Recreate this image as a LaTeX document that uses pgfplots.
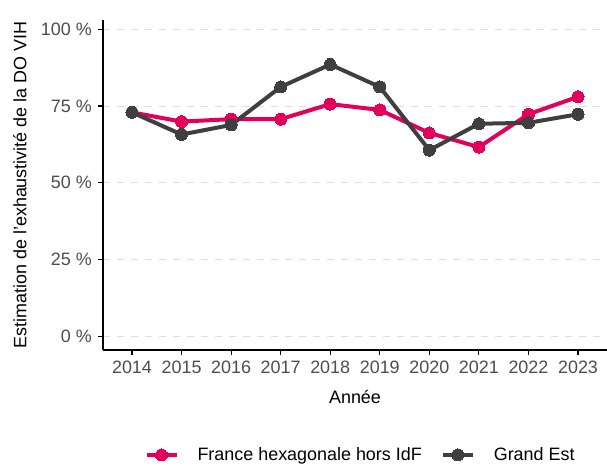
\documentclass[border=0pt]{standalone}
\usepackage{fontspec}
\setmainfont{Liberation Sans}
\usepackage{pgfplots}
\pgfplotsset{compat=1.18}
\definecolor{pinkc}{HTML}{E3005A}
\definecolor{grayc}{HTML}{3F3F3F}
\definecolor{ticklab}{HTML}{4D4D4D}
\definecolor{gridc}{HTML}{DEDEDE}
\begin{document}
\fontsize{18}{21}\selectfont
\begin{tikzpicture}
\useasboundingbox (0,0) rectangle (607bp,466bp);
\begin{axis}[
  at={(103bp,116bp)}, anchor=south west,
  scale only axis, width=504bp, height=330bp,
  xmin=2013.415, xmax=2023.585,
  ymin=-4.5, ymax=103,
  axis x line*=bottom, axis y line*=left,
  axis line style={line width=1.6bp, black},
  every tick/.style={black, line width=1.2bp},
  tick align=outside, major tick length=5bp,
  xtick={2014,2015,2016,2017,2018,2019,2020,2021,2022,2023},
  ytick={0,25,50,75,100},
  minor tick num=0,
  /pgf/number format/assume math mode=true,
  x tick label style={/pgf/number format/1000 sep={}, font=\fontsize{18}{21}\selectfont, text=ticklab},
  y tick label style={font=\fontsize{18}{21}\selectfont, text=ticklab},
  yticklabel={\pgfmathprintnumber{\tick}~\%},
  ymajorgrids,
  major grid style={gridc, line width=0.9bp, dash pattern=on 7bp off 7bp},
  xlabel={Année},
  ylabel={Estimation de l'exhaustivité de la DO VIH},
  xlabel style={at={(axis description cs:0.5,-0.142)}, anchor=center, font=\fontsize{18}{21}\selectfont},
  ylabel style={at={(axis description cs:-0.165,0.5)}, anchor=center, font=\fontsize{18}{21}\selectfont},
  legend columns=2,
  legend style={at={(axis description cs:0.511,-0.318)}, anchor=center, draw=none, fill=none,
    font=\fontsize{18}{21}\selectfont,
    /tikz/every odd column/.append style={column sep=17bp},
    /tikz/every even column/.append style={column sep=17bp}},
  legend image code/.code={\draw[mark repeat=2,mark phase=2,#1] plot coordinates {(0bp,0bp) (15bp,0bp) (30bp,0bp)};},
]
\addplot[color=pinkc, line width=4bp, mark=*, mark size=6bp, mark options={solid, fill=pinkc, line width=0pt}]
coordinates {(2014,72.9) (2015,69.9) (2016,70.7) (2017,70.7) (2018,75.6) (2019,73.7) (2020,66.2) (2021,61.6) (2022,72.3) (2023,78.0)};
\addlegendentry{France hexagonale hors IdF}
\addplot[color=grayc, line width=4bp, mark=*, mark size=6bp, mark options={solid, fill=grayc, line width=0pt}]
coordinates {(2014,72.9) (2015,65.7) (2016,68.8) (2017,81.2) (2018,88.5) (2019,81.2) (2020,60.6) (2021,69.2) (2022,69.5) (2023,72.3)};
\addlegendentry{Grand Est}
\end{axis}
\end{tikzpicture}
\end{document}
